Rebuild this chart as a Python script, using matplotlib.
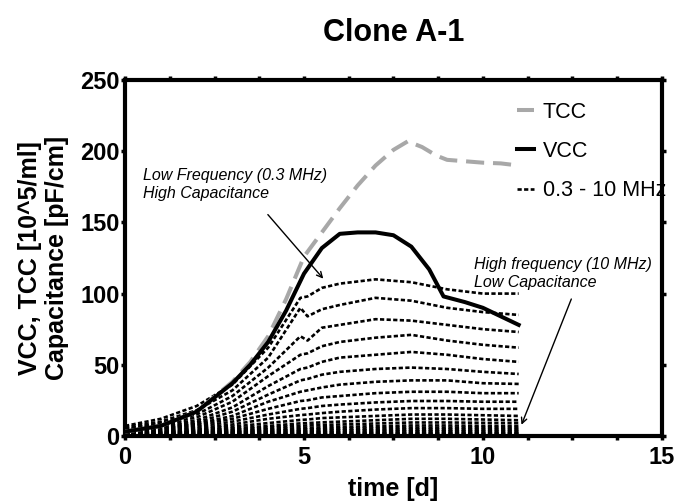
import matplotlib
matplotlib.use("Agg")
import matplotlib.pyplot as plt
from matplotlib.ticker import MultipleLocator

plt.rcParams['font.family'] = ['Liberation Sans', 'DejaVu Sans']

# total cell count (gray dashed)
t_tcc = [0, 1, 2, 3, 3.5, 4, 4.5, 5, 5.5, 6, 6.5, 7, 7.5, 7.9, 8.3, 8.7, 9, 9.5, 10, 10.5, 11]
tcc = [3, 7, 17, 38, 52, 70, 96, 126, 143, 160, 176, 190, 201, 207, 203, 197, 194, 193, 192, 191.5, 190]

# viable cell count (black solid)
t_vcc = [0, 1, 2, 3, 3.5, 4, 4.5, 5, 5.5, 6, 6.5, 7, 7.5, 8, 8.5, 8.9, 9.5, 10, 10.5, 11]
vcc = [3, 7, 17, 37, 50, 66, 88, 114, 132, 142, 143, 143, 141, 133, 117, 98, 94, 90, 84, 78]

# capacitance at 0.3 ... 10 MHz (top = low frequency)
t_cap = [0, 1, 2, 3, 4, 4.9, 5.1, 5.5, 6, 7, 8, 9, 10, 11]
cap_curves = [
    [7, 12, 21, 36, 62, 97, 98, 104, 107, 110, 108, 103, 100, 100],
    [6, 10, 18, 32, 55, 90, 84, 89, 92, 97, 95, 90, 87, 85],
    [5, 9, 15, 28, 48, 70, 67, 76, 78, 82, 81, 78, 75, 73],
    [4.5, 8, 13, 24, 42, 57, 58, 63, 66, 69, 71, 67, 64, 62],
    [4, 7, 11, 20, 35, 47, 48, 52, 55, 57, 59, 57, 54, 52],
    [3.6, 6, 9.5, 17, 29, 39, 40, 43, 45, 47, 48, 47, 45, 43.5],
    [3.3, 5.5, 8.5, 14, 24, 31, 32, 34, 36, 38, 39, 39, 37, 36.5],
    [3, 5, 7.5, 12, 19, 24.5, 25, 27, 28, 30, 31, 31, 30, 30],
    [2.7, 4.4, 6.4, 10, 15, 19, 19.5, 21, 22, 23.5, 24.5, 24.5, 24, 24],
    [2.4, 3.8, 5.3, 8, 12, 14.6, 15, 16, 17, 18.5, 19.5, 19.5, 19, 19],
    [2.1, 3.2, 4.4, 6.5, 9, 11.2, 11.5, 12.5, 13, 14, 15, 15, 14.5, 14],
    [1.9, 2.8, 3.7, 5.2, 7, 8.8, 9, 9.5, 10, 11, 12, 12, 11.5, 11],
    [1.7, 2.4, 3.1, 4.3, 5.8, 7.1, 7.3, 7.7, 8, 8.7, 9.4, 9.4, 9.2, 9],
    [1.5, 2.1, 2.7, 3.5, 4.6, 5.5, 5.7, 6, 6.3, 6.8, 7.3, 7.3, 7.1, 7],
    [1.3, 1.8, 2.3, 2.9, 3.7, 4.3, 4.5, 4.7, 5, 5.3, 5.7, 5.7, 5.6, 5.5],
    [1.1, 1.5, 1.9, 2.4, 2.9, 3.3, 3.4, 3.6, 3.8, 4.0, 4.3, 4.3, 4.2, 4.2],
    [0.9, 1.2, 1.5, 1.8, 2.2, 2.45, 2.5, 2.6, 2.7, 2.9, 3.1, 3.1, 3.0, 3.0],
    [0.7, 0.9, 1.1, 1.3, 1.5, 1.65, 1.7, 1.8, 1.85, 1.95, 2.1, 2.1, 2.0, 2.0],
    [0.5, 0.6, 0.7, 0.8, 0.9, 1.0, 1.0, 1.05, 1.1, 1.15, 1.25, 1.25, 1.2, 1.2],
    [0.3, 0.35, 0.4, 0.45, 0.5, 0.55, 0.55, 0.55, 0.6, 0.6, 0.65, 0.65, 0.6, 0.6],
]

fig = plt.figure(figsize=(6.76, 5.01), dpi=100)
ax = fig.add_axes([0.185, 0.13, 0.794, 0.71])

ax.plot(t_tcc, tcc, color='#a8a8a8', lw=2.9, linestyle=(0, (4.5, 2.2)), label='TCC', zorder=3)
ax.plot(t_vcc, vcc, color='black', lw=2.9, label='VCC', zorder=4)
for i, c in enumerate(cap_curves):
    ax.plot(t_cap, c, color='black', lw=1.9, linestyle=(0, (1.6, 0.9)),
            label='0.3 - 10 MHz' if i == 0 else None, zorder=2)

ax.set_xlim(0, 15)
ax.set_ylim(0, 250)
ax.xaxis.set_major_locator(MultipleLocator(5))
ax.xaxis.set_minor_locator(MultipleLocator(1.25))
ax.yaxis.set_major_locator(MultipleLocator(50))
ax.tick_params(which='both', direction='out', top=True, right=True, length=3, width=2.5)
ax.tick_params(axis='x', pad=4)
ax.tick_params(axis='y', pad=1)
for lab in ax.get_xticklabels() + ax.get_yticklabels():
    lab.set_fontsize(17)
    lab.set_fontweight('bold')
for s in ax.spines.values():
    s.set_linewidth(3)

ax.set_title('Clone A-1', fontsize=22, fontweight='bold', pad=28)
ax.set_xlabel('time [d]', fontsize=18, fontweight='bold', labelpad=6)
ax.set_ylabel('VCC, TCC [10^5/ml]\nCapacitance [pF/cm]', fontsize=18, fontweight='bold',
              labelpad=8, linespacing=1.15)

ax.annotate('', xy=(5.59, 109), xytext=(3.94, 157),
            arrowprops=dict(arrowstyle='->', color='black', lw=1))
ax.text(0.5, 188, 'Low Frequency (0.3 MHz)\nHigh Capacitance', fontsize=11.5,
        style='italic', va='top', ha='left', linespacing=1.2)
ax.annotate('', xy=(11.05, 6), xytext=(12.5, 98),
            arrowprops=dict(arrowstyle='->', color='black', lw=1))
ax.text(9.75, 126, 'High frequency (10 MHz)\nLow Capacitance', fontsize=11.5,
        style='italic', va='top', ha='left', linespacing=1.25)

ax.legend(loc='upper left', bbox_to_anchor=(0.73, 0.94), frameon=False, fontsize=15.5,
          handlelength=0.8, handletextpad=0.4, labelspacing=0.85, borderpad=0, borderaxespad=0)

fig.savefig('out.png', dpi=100)
